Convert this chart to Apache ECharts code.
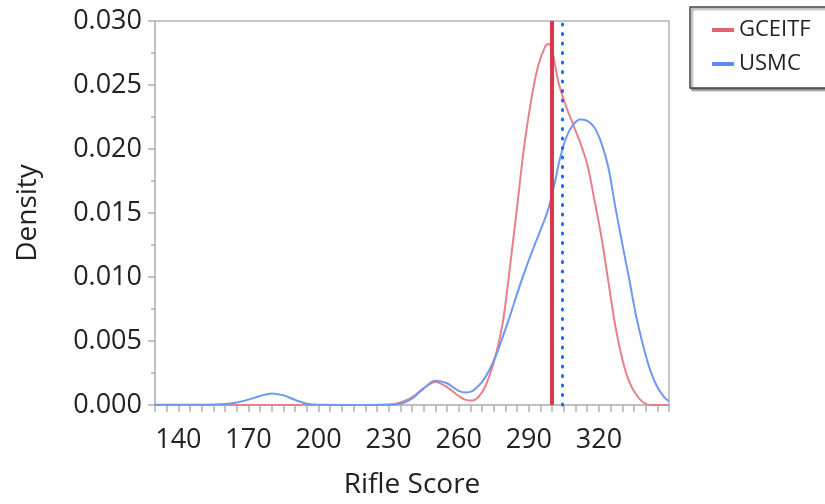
<!DOCTYPE html>
<html>
<head>
<meta charset="utf-8">
<script src="https://cdn.jsdelivr.net/npm/echarts@6/dist/echarts.min.js"></script>
<style>
html,body{margin:0;padding:0;background:#fff;}
#chart{width:825px;height:504px;}
</style>
</head>
<body>
<div id="chart"></div>
<script>
// Rifle score grid (x values)
var xs = [130,140,150,155,160,165,170,175,180,185,190,195,200,210,220,230,235,240,245,250,255,260,263,266,270,273,276,279,282,285,288,291,294,297,298.5,300,301.5,303,306,309,312,315,318,321,324,327,330,333,336,339,342,345,348,350];
// GCEITF density
var gceitf = [0,0,0,0,0,0,0,0,0,0,0,0,0,0,0,0.00003,0.0002,0.0006,0.0013,0.0018,0.0014,0.0007,0.0004,0.00035,0.0010,0.0022,0.0040,0.0066,0.0109,0.0155,0.0202,0.0238,0.0265,0.0280,0.0282,0.0277,0.0263,0.0250,0.0233,0.0219,0.0205,0.0188,0.0161,0.0132,0.0097,0.0062,0.0036,0.0018,0.0008,0.0002,0,0,0,0];
// USMC density
var usmc = [0.00001,0.00001,0.00002,0.00003,0.00008,0.0002,0.00042,0.0007,0.0009,0.00075,0.0004,0.0001,0.00001,0,0,0.00002,0.0001,0.0005,0.0013,0.0019,0.0017,0.0011,0.00097,0.0011,0.0018,0.0027,0.0039,0.0054,0.0070,0.0087,0.0103,0.0118,0.0132,0.0146,0.0154,0.0165,0.0177,0.0190,0.0209,0.0219,0.0223,0.0222,0.0217,0.0205,0.0186,0.0155,0.0126,0.0098,0.0069,0.0046,0.0027,0.0014,0.0006,0.0003];
// Mean lines [GCEITF, USMC]
var means = [300, 304.5];
var seriesNames = ['GCEITF','USMC'];
var xLabelValues = [140,170,200,230,260,290,320];

function pairs(vals){ return xs.map(function(x,i){ return [x, vals[i]]; }); }

var font = '"Open Sans", "Noto Sans", sans-serif';
var chart = echarts.init(document.getElementById('chart'), null, {renderer:'canvas'});
chart.setOption({
  animation: false,
  backgroundColor: '#fff',
  grid: { left: 155, right: 156, top: 21, bottom: 99, show: true, borderColor: '#c8c8c8', borderWidth: 2,
          containLabel: false, outerBoundsMode: 'none' },
  legend: {
    orient: 'vertical', left: 690, top: 7,
    data: seriesNames,
    icon: 'rect', itemWidth: 22, itemHeight: 4, itemGap: 12,
    padding: [12, 30, 13, 22],
    textStyle: { fontFamily: font, fontSize: 22, color: '#222' },
    borderColor: '#444', borderWidth: 1.5, backgroundColor: '#fff',
    shadowColor: 'rgba(0,0,0,0.45)', shadowBlur: 2, shadowOffsetX: 2, shadowOffsetY: 2
  },
  xAxis: {
    type: 'value', min: 130, max: 350, interval: 5,
    name: 'Rifle Score', nameLocation: 'middle', nameGap: 66,
    nameTextStyle: { fontFamily: font, fontSize: 28, color: '#222' },
    axisLine: { show: true, lineStyle: { color: '#c0c0c0', width: 2 } },
    axisTick: { show: true, length: 7, lineStyle: { color: '#b0b0b0', width: 1.5 } },
    splitLine: { show: false },
    axisLabel: {
      fontFamily: font, fontSize: 27, color: '#222', margin: 22,
      formatter: function(v){ return xLabelValues.indexOf(v) >= 0 ? String(v) : ''; }
    }
  },
  yAxis: {
    type: 'value', min: 0, max: 0.03, interval: 0.005,
    name: 'Density', nameLocation: 'middle', nameGap: 113,
    nameTextStyle: { fontFamily: font, fontSize: 28, color: '#222' },
    axisLine: { show: true, lineStyle: { color: '#c0c0c0', width: 2 } },
    axisTick: { show: true, length: 7, lineStyle: { color: '#b0b0b0', width: 1.5 } },
    minorTick: { show: true, splitNumber: 2, length: 4, lineStyle: { color: '#b0b0b0', width: 1.5 } },
    splitLine: { show: false },
    axisLabel: {
      fontFamily: font, fontSize: 27, color: '#222', margin: 13,
      formatter: function(v){ return v.toFixed(3); }
    }
  },
  series: [
    {
      name: seriesNames[0], type: 'line', data: pairs(gceitf), symbol: 'none', smooth: 0.35,
      color: '#e06474',
      lineStyle: { color: '#e8808c', width: 2 },
      markLine: {
        silent: true, symbol: 'none', label: { show: false },
        lineStyle: { color: '#d8384a', width: 4, type: 'solid' },
        data: [{ xAxis: means[0] }]
      },
      z: 2
    },
    {
      name: seriesNames[1], type: 'line', data: pairs(usmc), symbol: 'none', smooth: 0.35,
      color: '#5f8cf0',
      lineStyle: { color: '#6f98f0', width: 2 },
      markLine: {
        silent: true, symbol: 'none', label: { show: false },
        lineStyle: { color: '#1f6be6', width: 3, type: [1, 8.5], cap: 'round' },
        data: [{ xAxis: means[1] }]
      },
      z: 3
    }
  ]
});
</script>
</body>
</html>
